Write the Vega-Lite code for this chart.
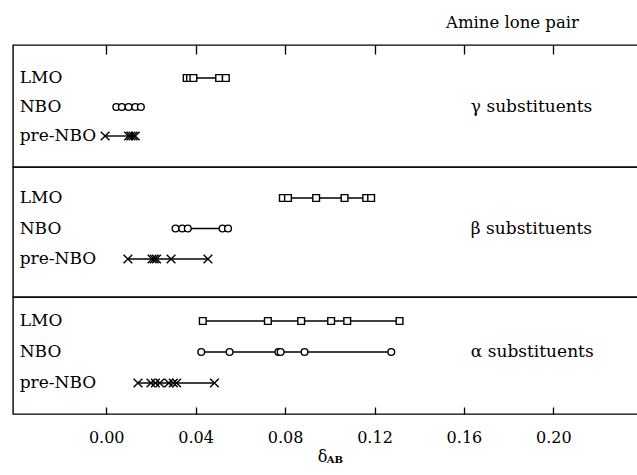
{
  "$schema": "https://vega.github.io/schema/vega-lite/v6.json",
  "padding": {"left": 12, "top": 15, "right": 0, "bottom": 0},
  "title": {"text": "Amine lone pair", "anchor": "start", "frame": "group", "dx": 433, "font": "DejaVu Serif", "fontSize": 16.5, "fontWeight": "normal", "color": "black", "offset": 12},
  "data": {"values": [
    {"panel": "g", "method": "LMO", "value": 0.036},
    {"panel": "g", "method": "LMO", "value": 0.0375},
    {"panel": "g", "method": "LMO", "value": 0.039},
    {"panel": "g", "method": "LMO", "value": 0.0505},
    {"panel": "g", "method": "LMO", "value": 0.0535},
    {"panel": "g", "method": "NBO", "value": 0.0045},
    {"panel": "g", "method": "NBO", "value": 0.007},
    {"panel": "g", "method": "NBO", "value": 0.010},
    {"panel": "g", "method": "NBO", "value": 0.013},
    {"panel": "g", "method": "NBO", "value": 0.0155},
    {"panel": "g", "method": "pre-NBO", "value": -0.0005},
    {"panel": "g", "method": "pre-NBO", "value": 0.010},
    {"panel": "g", "method": "pre-NBO", "value": 0.011},
    {"panel": "g", "method": "pre-NBO", "value": 0.012},
    {"panel": "g", "method": "pre-NBO", "value": 0.013},
    {"panel": "b", "method": "LMO", "value": 0.079},
    {"panel": "b", "method": "LMO", "value": 0.0813},
    {"panel": "b", "method": "LMO", "value": 0.0939},
    {"panel": "b", "method": "LMO", "value": 0.1066},
    {"panel": "b", "method": "LMO", "value": 0.1163},
    {"panel": "b", "method": "LMO", "value": 0.1185},
    {"panel": "b", "method": "NBO", "value": 0.031},
    {"panel": "b", "method": "NBO", "value": 0.034},
    {"panel": "b", "method": "NBO", "value": 0.0365},
    {"panel": "b", "method": "NBO", "value": 0.052},
    {"panel": "b", "method": "NBO", "value": 0.0545},
    {"panel": "b", "method": "pre-NBO", "value": 0.0097},
    {"panel": "b", "method": "pre-NBO", "value": 0.0205},
    {"panel": "b", "method": "pre-NBO", "value": 0.0215},
    {"panel": "b", "method": "pre-NBO", "value": 0.0225},
    {"panel": "b", "method": "pre-NBO", "value": 0.029},
    {"panel": "b", "method": "pre-NBO", "value": 0.0455},
    {"panel": "a", "method": "LMO", "value": 0.0432},
    {"panel": "a", "method": "LMO", "value": 0.0723},
    {"panel": "a", "method": "LMO", "value": 0.0872},
    {"panel": "a", "method": "LMO", "value": 0.1006},
    {"panel": "a", "method": "LMO", "value": 0.1078},
    {"panel": "a", "method": "LMO", "value": 0.1312},
    {"panel": "a", "method": "NBO", "value": 0.0425},
    {"panel": "a", "method": "NBO", "value": 0.0552},
    {"panel": "a", "method": "NBO", "value": 0.077},
    {"panel": "a", "method": "NBO", "value": 0.078},
    {"panel": "a", "method": "NBO", "value": 0.0887},
    {"panel": "a", "method": "NBO", "value": 0.1275},
    {"panel": "a", "method": "pre-NBO", "value": 0.0142},
    {"panel": "a", "method": "pre-NBO", "value": 0.020},
    {"panel": "a", "method": "pre-NBO", "value": 0.022},
    {"panel": "a", "method": "pre-NBO", "value": 0.024},
    {"panel": "a", "method": "pre-NBO", "value": 0.028},
    {"panel": "a", "method": "pre-NBO", "value": 0.030},
    {"panel": "a", "method": "pre-NBO", "value": 0.0315},
    {"panel": "a", "method": "pre-NBO", "value": 0.0484}
  ]},
  "spacing": 0,
  "bounds": "flush",
  "resolve": {"scale": {"x": "independent", "y": "independent"}, "axis": {"x": "independent"}},
  "vconcat": [
    {
      "width": 630, "height": 122,
      "layer": [
        {
          "transform": [{"filter": "datum.panel === 'g'"}],
          "mark": {"type": "line", "color": "black", "strokeWidth": 1.4},
          "encoding": {
            "x": {"field": "value", "type": "quantitative", "scale": {"domain": [-0.0417, 0.2401], "nice": false, "zero": false},
                  "axis": {"orient": "top", "offset": -9, "values": [0, 0.04, 0.08, 0.12, 0.16, 0.2], "labels": false, "domain": false, "grid": false, "ticks": true, "tickSize": 9, "tickColor": "black", "tickWidth": 1.3, "tickOpacity": 1, "title": null, "zindex": 2}},
            "y": {"field": "method", "type": "nominal", "scale": {"type": "point", "padding": 0, "domain": ["LMO", "NBO", "pre-NBO"], "range": [33, 91]}, "axis": null},
            "detail": {"field": "method"}
          }
        },
        {
          "transform": [{"filter": "datum.panel === 'g'"}],
          "mark": {"type": "point", "fill": "white", "stroke": "black", "strokeWidth": 1.4, "opacity": 1, "size": 45},
          "encoding": {
            "x": {"field": "value", "type": "quantitative"},
            "y": {"field": "method", "type": "nominal"},
            "shape": {"field": "method", "type": "nominal", "scale": {"domain": ["LMO", "NBO", "pre-NBO"], "range": ["square", "circle", "M-1.3,-1.3L1.3,1.3M1.3,-1.3L-1.3,1.3"]}, "legend": null}
          }
        },
        {
          "data": {"values": [{"method": "LMO"}, {"method": "NBO"}, {"method": "pre-NBO"}]},
          "mark": {"type": "text", "align": "left", "baseline": "middle", "font": "DejaVu Serif", "fontSize": 17, "color": "black"},
          "encoding": {
            "x": {"datum": -0.0387, "type": "quantitative"},
            "y": {"field": "method", "type": "nominal"},
            "text": {"field": "method"}
          }
        },
        {
          "data": {"values": [{"label": "γ substituents"}]},
          "mark": {"type": "text", "align": "left", "baseline": "middle", "font": "DejaVu Serif", "fontSize": 17, "color": "black"},
          "encoding": {
            "x": {"datum": 0.1631, "type": "quantitative"},
            "y": {"datum": "NBO", "type": "nominal"},
            "text": {"field": "label"}
          }
        }
      ]
    },
    {
      "width": 630, "height": 130,
      "layer": [
        {
          "transform": [{"filter": "datum.panel === 'b'"}],
          "mark": {"type": "line", "color": "black", "strokeWidth": 1.4},
          "encoding": {
            "x": {"field": "value", "type": "quantitative", "scale": {"domain": [-0.0417, 0.2401], "nice": false, "zero": false}, "axis": null},
            "y": {"field": "method", "type": "nominal", "scale": {"type": "point", "padding": 0, "domain": ["LMO", "NBO", "pre-NBO"], "range": [31, 92]}, "axis": null},
            "detail": {"field": "method"}
          }
        },
        {
          "transform": [{"filter": "datum.panel === 'b'"}],
          "mark": {"type": "point", "fill": "white", "stroke": "black", "strokeWidth": 1.4, "opacity": 1, "size": 45},
          "encoding": {
            "x": {"field": "value", "type": "quantitative"},
            "y": {"field": "method", "type": "nominal"},
            "shape": {"field": "method", "type": "nominal", "scale": {"domain": ["LMO", "NBO", "pre-NBO"], "range": ["square", "circle", "M-1.3,-1.3L1.3,1.3M1.3,-1.3L-1.3,1.3"]}, "legend": null}
          }
        },
        {
          "data": {"values": [{"method": "LMO"}, {"method": "NBO"}, {"method": "pre-NBO"}]},
          "mark": {"type": "text", "align": "left", "baseline": "middle", "font": "DejaVu Serif", "fontSize": 17, "color": "black"},
          "encoding": {
            "x": {"datum": -0.0387, "type": "quantitative"},
            "y": {"field": "method", "type": "nominal"},
            "text": {"field": "method"}
          }
        },
        {
          "data": {"values": [{"label": "β substituents"}]},
          "mark": {"type": "text", "align": "left", "baseline": "middle", "font": "DejaVu Serif", "fontSize": 17, "color": "black"},
          "encoding": {
            "x": {"datum": 0.1631, "type": "quantitative"},
            "y": {"datum": "NBO", "type": "nominal"},
            "text": {"field": "label"}
          }
        }
      ]
    },
    {
      "width": 630, "height": 117,
      "layer": [
        {
          "transform": [{"filter": "datum.panel === 'a'"}],
          "mark": {"type": "line", "color": "black", "strokeWidth": 1.4},
          "encoding": {
            "x": {"field": "value", "type": "quantitative", "scale": {"domain": [-0.0417, 0.2401], "nice": false, "zero": false},
                  "axis": {"orient": "bottom", "offset": -7, "values": [0, 0.04, 0.08, 0.12, 0.16, 0.2], "format": ".2f", "domain": false, "grid": false, "ticks": true, "tickSize": 7, "tickColor": "black", "tickWidth": 1.3, "tickOpacity": 1, "labelPadding": 15, "labelFont": "DejaVu Serif", "labelFontSize": 16, "labelColor": "black", "title": "δ", "titleFont": "DejaVu Serif", "titleFontSize": 16, "titleFontWeight": "normal", "titleColor": "black", "titlePadding": 3, "titleX": 309, "zindex": 2}},
            "y": {"field": "method", "type": "nominal", "scale": {"type": "point", "padding": 0, "domain": ["LMO", "NBO", "pre-NBO"], "range": [24, 86]}, "axis": null},
            "detail": {"field": "method"}
          }
        },
        {
          "transform": [{"filter": "datum.panel === 'a'"}],
          "mark": {"type": "point", "fill": "white", "stroke": "black", "strokeWidth": 1.4, "opacity": 1, "size": 45},
          "encoding": {
            "x": {"field": "value", "type": "quantitative"},
            "y": {"field": "method", "type": "nominal"},
            "shape": {"field": "method", "type": "nominal", "scale": {"domain": ["LMO", "NBO", "pre-NBO"], "range": ["square", "circle", "M-1.3,-1.3L1.3,1.3M1.3,-1.3L-1.3,1.3"]}, "legend": null}
          }
        },
        {
          "data": {"values": [{"method": "LMO"}, {"method": "NBO"}, {"method": "pre-NBO"}]},
          "mark": {"type": "text", "align": "left", "baseline": "middle", "font": "DejaVu Serif", "fontSize": 17, "color": "black"},
          "encoding": {
            "x": {"datum": -0.0387, "type": "quantitative"},
            "y": {"field": "method", "type": "nominal"},
            "text": {"field": "method"}
          }
        },
        {
          "data": {"values": [{"label": "α substituents"}]},
          "mark": {"type": "text", "align": "left", "baseline": "middle", "font": "DejaVu Serif", "fontSize": 17, "color": "black"},
          "encoding": {
            "x": {"datum": 0.1631, "type": "quantitative"},
            "y": {"datum": "NBO", "type": "nominal"},
            "text": {"field": "label"}
          }
        },
        {
          "data": {"values": [{"sub": "AB"}]},
          "mark": {"type": "text", "align": "center", "baseline": "middle", "font": "DejaVu Serif", "fontSize": 10, "fontWeight": "bold", "color": "black", "dy": 77, "clip": false},
          "encoding": {
            "x": {"datum": 0.1023, "type": "quantitative"},
            "y": {"datum": "pre-NBO", "type": "nominal"},
            "text": {"field": "sub"}
          }
        }
      ]
    }
  ],
  "config": {
    "view": {"stroke": "black", "strokeWidth": 1.4},
    "font": "DejaVu Serif",
    "background": "white"
  }
}
